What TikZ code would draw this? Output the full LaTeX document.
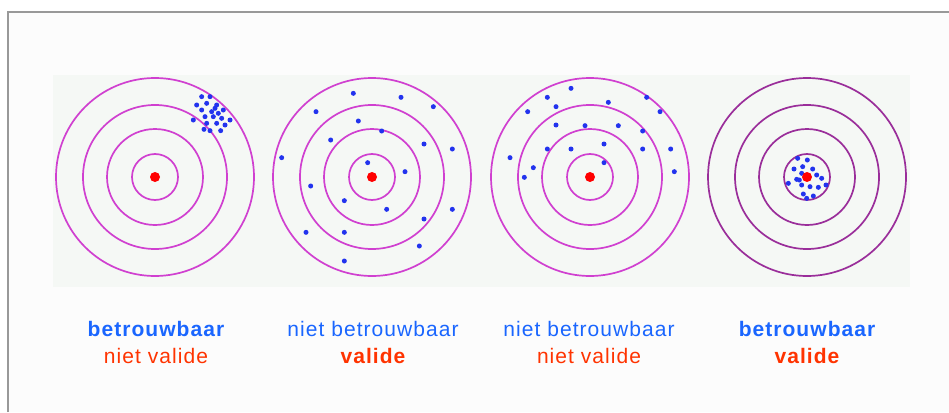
\documentclass[tikz,border=0pt]{standalone}
\usepackage{fontspec}
\setmainfont{Liberation Sans}
\newfontfamily\lblfont[LetterSpace=5]{Liberation Sans}
\definecolor{ringc}{HTML}{D040D0}
\definecolor{ringd}{HTML}{9A2E9A}
\definecolor{dotb}{HTML}{2233EE}
\definecolor{txtb}{HTML}{1A66FF}
\definecolor{txtr}{HTML}{FF3300}
\definecolor{bandc}{HTML}{F5F8F5}
\definecolor{framec}{HTML}{999999}
\definecolor{paper}{HTML}{FCFCFC}
\tikzset{
  ring/.style={draw=ringc, line width=1.7pt},
  ringdark/.style={draw=ringd, line width=1.7pt},
  bull/.style={circle, fill=red, inner sep=0pt, minimum size=10pt},
  bdot/.style={circle, fill=dotb, inner sep=0pt, minimum size=5pt},
  lblb/.style={text=txtb, font=\lblfont\fontsize{21}{23}\selectfont, inner sep=0pt},
  lblr/.style={text=txtr, font=\lblfont\fontsize{21}{23}\selectfont, inner sep=0pt},
  bold/.style={font=\lblfont\bfseries\fontsize{21}{23}\selectfont},
}
\begin{document}
\begin{tikzpicture}[x=1pt,y=-1pt]
\useasboundingbox (0,0) rectangle (949,412);
\fill[white] (0,0) rectangle (949,412);
\fill[paper] (8,12) rectangle (949,412);
\draw[framec, line width=2pt] (8,412) -- (8,12) -- (949,12);
\fill[bandc] (53,75) rectangle (910,287);
% targets
\foreach \cx/\st in {155/ring,372/ring,590/ring,807/ringdark}{
  \foreach \r in {99,72,48,23}{
    \draw[\st] (\cx,177) circle[radius=\r];
  }
}
\node[bull] (c1) at (155,177) {};
\node[bull] (c2) at (372,177) {};
\node[bull] (c3) at (590,177) {};
% target 1 dots
\begin{scope}[shift={(50,70)},scale=1/3]
\foreach \p in {(455,80),(480,80),(440,105),(470,100),(500,105),(455,120),(485,125),(520,120),(465,140),(490,140),(515,145),(540,150),(430,150),(470,160),(500,160),(525,165),(480,182),(512,182),(462,178),(505,130),(495,115)}
  \node[bdot] at \p {};
\end{scope}
% target 2 dots
\begin{scope}[shift={(265,70)},scale=1/3]
\foreach \p in {(265,70),(408,82),(505,110),(153,125),(280,153),(350,183),(197,210),(477,222),(562,237),(50,263),(308,278),(420,305),(137,348),(238,392),(365,418),(562,418),(477,447),(123,487),(238,487),(463,528),(238,573)}
  \node[bdot] at \p {};
\end{scope}
% target 3 dots
\begin{scope}[shift={(485,70)},scale=1/3]
\foreach \p in {(258,55),(187,82),(485,82),(213,110),(370,97),(128,125),(525,125),(213,165),(300,167),(400,167),(473,183),(357,222),(187,237),(258,237),(473,237),(557,237),(75,263),(145,293),(357,278),(118,322),(568,305)}
  \node[bdot] at \p {};
\end{scope}
% target 4 dots
\begin{scope}[shift={(700,70)},scale=1/3]
\foreach \p in {(293,265),(322,270),(282,297),(308,290),(338,297),(305,310),(290,328),(265,340),(350,315),(365,325),(305,345),(330,350),(355,352),(378,345),(310,372),(340,378),(320,385),(298,330)}
  \node[bdot] at \p {};
\end{scope}
\node[bull] (c4) at (807,177) {};
% labels
\node[lblb, bold] (t1a) at (156,329) {betrouwbaar};
\node[lblr] (t1b) at (156,356) {niet valide};
\node[lblb] (t2a) at (373,329) {niet betrouwbaar};
\node[lblr, bold] (t2b) at (373,356) {valide};
\node[lblb] (t3a) at (589,329) {niet betrouwbaar};
\node[lblr] (t3b) at (589,356) {niet valide};
\node[lblb, bold] (t4a) at (807,329) {betrouwbaar};
\node[lblr, bold] (t4b) at (807,356) {valide};
\end{tikzpicture}
\end{document}
